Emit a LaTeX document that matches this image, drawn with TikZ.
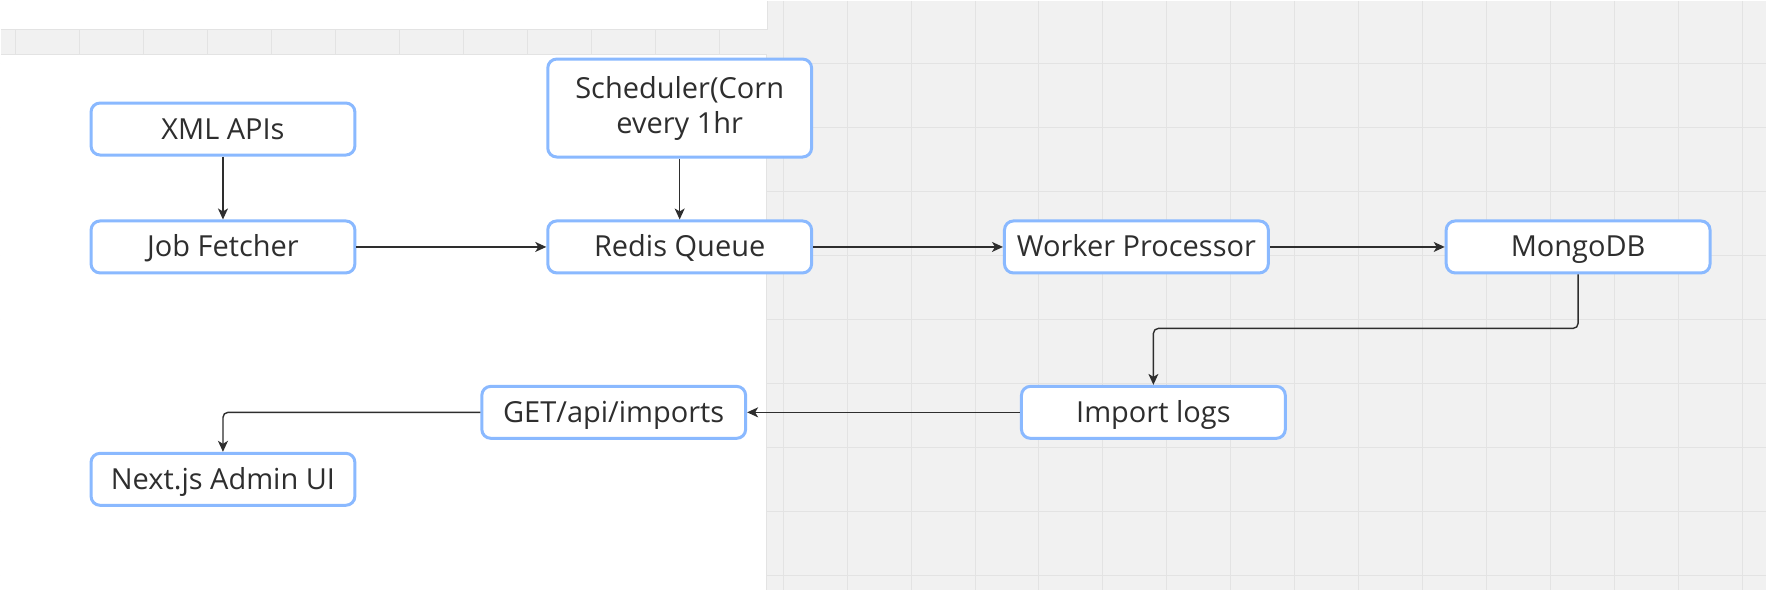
\documentclass[tikz,border=0pt]{standalone}
\usepackage{fontspec}
\setmainfont{Open Sans}
\usetikzlibrary{arrows.meta}
\usetikzlibrary{positioning}
\definecolor{boxblue}{HTML}{8AB9FF}
\definecolor{inkgrey}{HTML}{2E2E2E}
\definecolor{canvasgrey}{HTML}{F1F1F1}
\definecolor{gridgrey}{HTML}{E3E3E3}
\tikzset{
  box/.style={draw=boxblue, line width=3pt, fill=white, rounded corners=9pt,
    minimum width=264pt, minimum height=52pt, text=inkgrey, align=center,
    text height=20pt, text depth=0pt, font=\fontsize{29}{35}\selectfont},
  flow/.style={draw=inkgrey, line width=1.4pt, rounded corners=5pt,
    -{Stealth[length=11pt,width=10pt,inset=3pt]}}
}

\begin{document}
\begin{tikzpicture}[x=1pt,y=-1pt]
  % canvas and grid
  \fill[canvasgrey] (0,0) rectangle (1766,590);
  \foreach \gx in {15,79,...,1766}
    \draw[gridgrey, line width=1pt] (\gx,0) -- (\gx,590);
  \foreach \gy in {63,127,...,590}
    \draw[gridgrey, line width=1pt] (0,\gy) -- (1766,\gy);
  \fill[white] (0,0) rectangle (767,29);
  \draw[gridgrey, line width=1.2pt] (0,29) -- (767,29) -- (767,0);
  \draw[gridgrey, line width=1.2pt] (0,54) -- (767,54);
  \fill[white] (0,54.6) rectangle (766,590);
  \draw[gridgrey, line width=1.2pt] (766,54) -- (766,590);
  \useasboundingbox (0,0) rectangle (1766,590);

  % nodes
  \node[box] (xml) at (222.5,128.5) {XML APIs};
  \node[box, below=63pt of xml] (fetcher) {Job Fetcher};
  \node[box, right=190pt of fetcher] (redis) {Redis Queue};
  \node[box, minimum height=98pt, text height=, text depth=, above=61pt of redis] (sched) {Scheduler(Corn\\every 1hr};
  \node[box, right=190pt of redis] (worker) {Worker Processor};
  \node[box, right=175pt of worker] (mongo) {MongoDB};
  \node[box] (logs) at (1153.5,412) {Import logs};
  \node[box, left=273pt of logs] (api) {GET/api/imports};
  \node[box] (admin) at (222.5,479) {Next.js Admin UI};

  % connectors
  \draw[flow] (xml) -- (fetcher);
  \draw[flow] (sched) -- (redis);
  \draw[flow] (fetcher) -- (redis);
  \draw[flow] (redis) -- (worker);
  \draw[flow] (worker) -- (mongo);
  \draw[flow] (mongo.south) -- ++(0,54) -| (logs.north);
  \draw[flow] (logs) -- (api);
  \draw[flow] (api.west) -| (admin.north);
\end{tikzpicture}
\end{document}
